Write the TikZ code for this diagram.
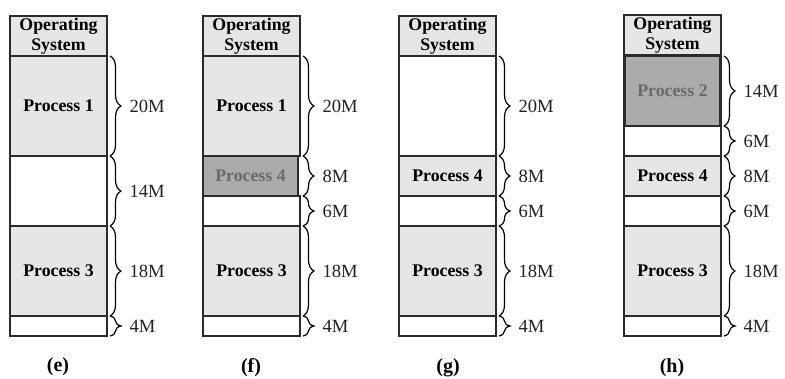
\documentclass[tikz,border=0pt]{standalone}
\usepackage{fontspec}
\setmainfont{Liberation Serif}
\usetikzlibrary{decorations.pathreplacing,calc}

\definecolor{segfill}{HTML}{E6E6E6}
\definecolor{newfill}{HTML}{ABABAB}
\definecolor{newtext}{HTML}{6A6A6A}
\definecolor{edge}{HTML}{2B2B2B}
\definecolor{labelink}{HTML}{222222}

\tikzset{
  seg/.style={draw=edge, line width=1.2pt, inner sep=0pt, outer sep=0pt,
    minimum width=97pt, anchor=north west, align=center,
    font=\fontsize{17.8}{19.5}\selectfont\bfseries},
  ossys/.style={seg, fill=segfill},
  used/.style={seg, fill=segfill},
  hole/.style={seg, fill=white},
  fresh/.style={seg, fill=newfill, text=newtext, line width=2pt, minimum width=95pt},
  sizebrace/.style={decorate, decoration={brace, amplitude=11pt}, line width=1.2pt, draw=black},
  sizelabel/.style={anchor=west, inner sep=0pt, xshift=19pt, text=labelink,
    font=\fontsize{18.6}{20}\selectfont},
  caption/.style={font=\fontsize{20}{22}\selectfont\bfseries}
}

% one memory partition: name, x, top y, height, style, text
\newcommand\memblock[6]{\node[#5, minimum height=#4pt] (#1) at (#2,#3) {#6};}
% brace along the right side of column #1, from the top of #2 to the bottom of #3
\newcommand\sizespan[4]{\draw[sizebrace] ($(#1.east |- #2.north)+(3,0)$) -- ($(#1.east |- #3.south)+(3,0)$) node[midway, sizelabel] {#4};}
% brace spanning a single partition #2
\newcommand\sizebr[3]{\sizespan{#1}{#2}{#2}{#3}}

\begin{document}
\begin{tikzpicture}[x=1pt, y=-1pt]
\useasboundingbox (0,0) rectangle (785,379);

% ---------- (e) ----------
\memblock{eos}{10}{16}{40}{ossys}{Operating\\System}
\memblock{e1}{10}{56}{100}{used}{Process 1}
\memblock{e2}{10}{156}{70}{hole}{}
\memblock{e3}{10}{226}{90}{used}{Process 3}
\memblock{e4}{10}{316}{20}{hole}{}
\sizebr{eos}{e1}{20M}
\sizebr{eos}{e2}{14M}
\sizebr{eos}{e3}{18M}
\sizebr{eos}{e4}{4M}
\node[caption] (ecap) at (58,367) {(e)};

% ---------- (f) ----------
\memblock{fos}{203}{16}{40}{ossys}{Operating\\System}
\memblock{f1}{203}{56}{100}{used}{Process 1}
\memblock{f2}{203}{156}{40}{fresh}{Process 4}
\memblock{f3}{203}{196}{30}{hole}{}
\memblock{f4}{203}{226}{90}{used}{Process 3}
\memblock{f5}{203}{316}{20}{hole}{}
\sizebr{fos}{f1}{20M}
\sizebr{fos}{f2}{8M}
\sizebr{fos}{f3}{6M}
\sizebr{fos}{f4}{18M}
\sizebr{fos}{f5}{4M}
\node[caption] (fcap) at (251,368) {(f)};

% ---------- (g) ----------
\memblock{gos}{399}{16}{40}{ossys}{Operating\\System}
\memblock{g1}{399}{56}{100}{hole}{}
\memblock{g2}{399}{156}{40}{used}{Process 4}
\memblock{g3}{399}{196}{30}{hole}{}
\memblock{g4}{399}{226}{90}{used}{Process 3}
\memblock{g5}{399}{316}{20}{hole}{}
\sizebr{gos}{g1}{20M}
\sizebr{gos}{g2}{8M}
\sizebr{gos}{g3}{6M}
\sizebr{gos}{g4}{18M}
\sizebr{gos}{g5}{4M}
\node[caption] (gcap) at (448,368) {(g)};

% ---------- (h) ----------
\memblock{hos}{624}{15}{40}{ossys}{Operating\\System}
\memblock{h0}{624}{55}{101}{hole}{}
\memblock{h1}{625}{56}{70}{fresh}{Process 2}
\memblock{h3}{624}{156}{40}{used}{Process 4}
\memblock{h4}{624}{196}{30}{hole}{}
\memblock{h5}{624}{226}{90}{used}{Process 3}
\memblock{h6}{624}{316}{20}{hole}{}
\sizebr{hos}{h1}{14M}
\draw[sizebrace] ($(hos.east |- h1.south)+(3,0)$) -- ($(hos.east |- h3.north)+(3,0)$) node[midway, sizelabel] {6M};
\sizebr{hos}{h3}{8M}
\sizebr{hos}{h4}{6M}
\sizebr{hos}{h5}{18M}
\sizebr{hos}{h6}{4M}
\node[caption] (hcap) at (672,368) {(h)};
\end{tikzpicture}
\end{document}
